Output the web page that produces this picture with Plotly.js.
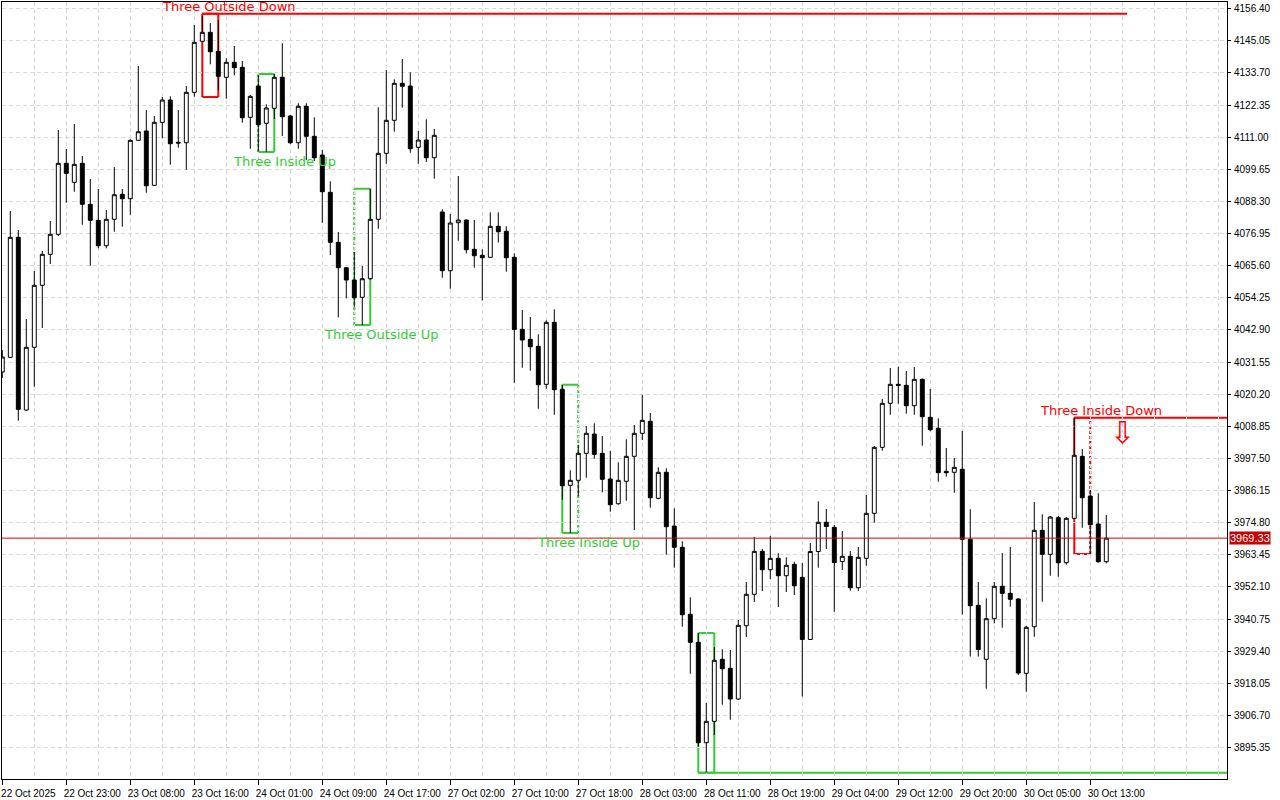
<!DOCTYPE html>
<html><head><meta charset="utf-8">
<script src="https://cdn.plot.ly/plotly-3.0.1.min.js"></script>
<style>html,body{margin:0;padding:0;background:#fff;}#chart{width:1280px;height:800px;}</style>
</head><body><div id="chart"></div>
<script>
// ---- data (hourly OHLC bars, oldest first) ----
const opens = [
4028.03,4033.22,4075.63,4014.60,4036.76,4058.67,4069.62,4076.69,4101.78,4095.06,
4101.78,4087.29,4081.63,4072.66,4081.99,4090.82,4089.27,4109.90,4113.19,4094.00,
4116.26,4124.14,4109.20,4109.06,4126.86,4144.89,4148.07,4141.35,4132.17,4137.47,
4135.70,4118.03,4129.09,4115.91,4121.21,4132.17,4118.49,4109.06,4121.92,4111.32,
4104.71,4091.53,4073.86,4064.89,4060.54,4054.43,4061.00,4081.99,4105.31,4116.97,
4130.05,4129.09,4107.43,4110.01,4103.75,4084.57,4063.83,4080.79,4081.74,4071.39,
4069.27,4068.56,4079.51,4077.75,4068.56,4043.12,4039.58,4037.11,4023.68,4045.59,
4021.92,3987.99,3989.76,3999.30,4006.12,3999.30,3990.22,3981.49,3989.41,3998.24,
4006.37,4010.61,3983.40,3992.59,3973.61,3966.09,3942.41,3932.52,3897.04,3904.60,
3926.51,3923.33,3912.48,3938.38,3949.48,3964.67,3958.17,3962.20,3956.05,3960.08,
3955.48,3933.51,3964.60,3974.92,3973.15,3961.07,3962.91,3951.81,3962.20,3978.10,
4001.42,4016.97,4023.68,4023.33,4016.12,4025.45,4012.02,4008.14,3992.94,3992.59,
3993.65,3968.91,3945.59,3926.51,3940.86,3952.31,3949.83,3947.82,3921.56,3938.03,
3972.09,3963.61,3976.55,3960.64,3976.33,3998.24,3984.21,3974.32,3961.00];
const highs = [
4035.80,4084.92,4078.21,4046.76,4063.72,4070.79,4081.39,4113.54,4106.83,4115.66,
4104.36,4096.23,4092.69,4085.27,4100.47,4092.69,4110.26,4136.16,4120.61,4118.49,
4125.20,4125.45,4120.61,4129.09,4150.65,4153.93,4151.35,4152.41,4138.88,4143.23,
4137.93,4125.91,4132.98,4122.62,4133.33,4144.18,4118.84,4122.98,4122.98,4118.03,
4106.48,4095.42,4077.50,4065.13,4070.43,4065.49,4092.80,4121.56,4134.74,4131.46,
4138.63,4133.93,4113.19,4117.32,4113.90,4085.52,4083.86,4097.29,4081.92,4081.74,
4071.39,4084.46,4084.46,4079.55,4069.97,4049.94,4047.46,4041.35,4046.30,4050.19,
4023.54,3993.29,4002.23,4008.95,4009.90,4005.42,4000.11,3996.12,4004.25,4009.30,
4019.90,4013.54,3994.35,3994.00,3979.87,3968.21,3948.42,3935.80,3911.07,3930.86,
3930.04,3929.80,3940.40,3953.82,3969.73,3965.49,3970.08,3963.97,3962.55,3961.00,
3960.54,3967.61,3982.34,3979.62,3973.97,3971.85,3964.78,3966.19,3984.57,4001.88,
4018.49,4029.44,4029.90,4028.38,4029.80,4025.73,4022.02,4011.67,4001.17,3997.64,
4007.18,3979.55,3953.82,3948.06,3953.82,3964.07,3966.19,3948.06,3938.28,3982.09,
3977.75,3977.15,3977.15,3976.79,4011.88,4000.82,3986.33,3985.17,3977.50];
const lows = [
4025.91,4032.98,4010.82,4014.43,4022.84,4043.58,4066.19,4076.09,4087.85,4091.74,
4080.08,4065.59,4071.74,4071.74,4077.61,4079.37,4083.61,4109.83,4091.39,4093.93,
4110.61,4101.28,4107.29,4099.52,4125.31,4144.82,4136.76,4127.68,4124.60,4132.87,
4116.12,4106.94,4105.88,4105.77,4117.43,4111.42,4108.60,4106.94,4102.94,4102.59,
4080.79,4069.37,4047.36,4054.07,4051.11,4044.64,4060.54,4078.67,4101.63,4112.94,
4121.42,4105.52,4101.63,4102.24,4096.33,4061.35,4057.46,4074.43,4069.90,4064.89,
4053.30,4068.49,4073.79,4063.47,4024.25,4029.55,4028.49,4015.06,4022.13,4012.94,
3982.91,3971.14,3984.11,3990.68,3997.39,3985.52,3978.67,3981.14,3982.55,3972.20,
4004.00,3980.08,3983.05,3963.47,3958.88,3938.03,3921.42,3895.63,3886.44,3899.76,
3910.47,3905.17,3912.13,3934.39,3946.76,3950.64,3954.88,3944.99,3950.29,3949.23,
3913.37,3933.44,3958.88,3965.49,3943.33,3958.06,3950.75,3950.75,3959.58,3974.78,
4000.22,4012.94,4016.83,4013.30,4012.94,4001.99,4007.08,3989.27,3991.03,3985.38,
3942.34,3927.50,3927.50,3916.12,3939.23,3937.68,3945.10,3920.96,3915.06,3934.50,
3946.86,3956.05,3955.70,3959.94,3976.26,3973.01,3963.72,3960.64,3960.43];
const closes = [
4033.33,4075.63,4014.85,4036.76,4058.67,4069.62,4076.69,4101.78,4098.24,4101.42,
4087.29,4081.63,4072.66,4081.99,4090.68,4089.27,4109.90,4112.94,4093.86,4116.26,
4124.14,4108.70,4108.95,4126.86,4144.53,4148.07,4141.21,4132.52,4137.47,4135.56,
4117.89,4125.45,4115.42,4121.32,4132.17,4118.24,4109.06,4121.92,4111.32,4103.75,
4091.74,4073.86,4064.89,4060.54,4054.28,4061.00,4081.99,4105.31,4116.97,4130.05,
4128.99,4106.94,4110.01,4103.75,4111.67,4063.83,4080.68,4081.74,4071.25,4069.13,
4068.42,4079.51,4077.61,4068.42,4043.05,4039.34,4036.97,4023.54,4045.59,4021.78,
3987.85,3989.76,3999.30,4006.37,3998.95,3990.12,3981.14,3989.76,3998.24,4006.37,
4010.96,3983.61,3992.59,3973.37,3966.09,3942.27,3932.52,3897.04,3904.60,3926.16,
3923.19,3912.48,3938.52,3949.48,3964.67,3958.17,3962.20,3956.05,3959.73,3952.52,
3933.51,3964.60,3974.92,3973.44,3960.71,3962.91,3951.81,3962.55,3978.10,4001.42,
4016.97,4023.68,4023.33,4016.12,4025.45,4012.24,4007.64,3992.45,3992.45,3994.35,
3968.91,3945.45,3929.97,3940.86,3952.31,3949.83,3947.71,3921.67,3937.82,3972.09,
3963.61,3976.79,3960.64,3976.33,3998.60,3983.61,3974.07,3961.00,3969.33];

// time axis labels, one every 8 bars starting at bar 0
const timeLabels = ['22 Oct 2025','22 Oct 23:00','23 Oct 08:00','23 Oct 16:00','24 Oct 01:00',
  '24 Oct 09:00','24 Oct 17:00','27 Oct 02:00','27 Oct 10:00','27 Oct 18:00','28 Oct 03:00',
  '28 Oct 11:00','28 Oct 19:00','29 Oct 04:00','29 Oct 12:00','29 Oct 20:00','30 Oct 05:00','30 Oct 13:00'];
const barsPerLabel = 8;
const priceTick0 = 3895.35;
const priceStep = 11.35;
const currentPrice = 3969.33;

// candlestick patterns: bar span, price box, direction
const patternNames   = ['Three Outside Down','Three Inside Up','Three Outside Up','Three Inside Up','Three Inside Up','Three Inside Down'];
const patternFrom    = [25, 32, 44, 70, 87, 134];
const patternTo      = [27, 34, 46, 72, 89, 136];
const patternTop     = [4154.64, 4133.33, 4092.80, 4023.54, 3935.80, 4011.88];
const patternBottom  = [4125.20, 4105.77, 4044.64, 3971.14, 3886.44, 3963.72];
const patternBearish = [true, false, false, false, false, true];
const patternLevelEnd = [140.6, null, null, null, 'edge', 'edge']; // level line extension (bar index)
const signalBar = 140, signalPrice = 4006.8; // sell arrow after Three Inside Down

// ---- styling ----
const RED = '#ff0000', GREEN = '#32cd32';
const dashSide = ['', 'left', 'left', 'right', '', 'right'];
const labelVisible = [true, true, true, true, false, true];

const idx = opens.map((_, i) => i);
const xRange = [-0.0375, 153.09];
const yRange = [3884.22, 4158.78];

const trace = {
  type: 'candlestick', x: idx, open: opens, high: highs, low: lows, close: closes,
  increasing: {line: {color: '#000', width: 1}, fillcolor: '#ffffff'},
  decreasing: {line: {color: '#000', width: 1}, fillcolor: '#000000'},
  whiskerwidth: 0, hoverinfo: 'skip', showlegend: false
};

const shapes = [];
const annotations = [];
patternNames.forEach((name, p) => {
  const col = patternBearish[p] ? RED : GREEN;
  const a = patternFrom[p], b = patternTo[p], t = patternTop[p], btm = patternBottom[p];
  const edge = (x0, y0, x1, y1, side) => shapes.push({type: 'line', layer: 'below', xref: 'x', yref: 'y', x0, y0, x1, y1,
    line: {color: col, width: 2, dash: dashSide[p] === side ? '3px,2px' : 'solid'}});
  edge(a, t, b, t, 'top');
  edge(a, btm, b, btm, 'bottom');
  edge(a, btm, a, t, 'left');
  edge(b, btm, b, t, 'right');
  const ext = patternLevelEnd[p];
  if (ext !== null) {
    const lvl = patternBearish[p] ? t : btm;
    shapes.push({type: 'line', layer: 'below', xref: 'x', yref: 'y', x0: a, x1: ext === 'edge' ? xRange[1] : ext, y0: lvl, y1: lvl,
      line: {color: col, width: 2}});
  }
  if (labelVisible[p]) {
    annotations.push({xref: 'x', yref: 'y', x: b + 1.3, y: patternBearish[p] ? t : btm,
      yanchor: patternBearish[p] ? 'bottom' : 'top', yshift: patternBearish[p] ? -2 : 0,
      xanchor: 'center', showarrow: false,
      text: name, font: {family: 'DejaVu Sans', size: 13, color: col}, borderpad: 1});
  }
});

// sell signal arrow
annotations.push({xref: 'x', yref: 'y', x: signalBar, y: signalPrice, showarrow: false, text: '⇩',
  font: {family: 'DejaVu Sans', size: 30, color: RED}, xanchor: 'center', yanchor: 'middle'});

// current price line + tag
shapes.push({type: 'line', xref: 'paper', yref: 'y', x0: 0, x1: 1, y0: currentPrice, y1: currentPrice,
  line: {color: '#e00000', width: 1}});
annotations.push({xref: 'paper', yref: 'y', x: 1, y: currentPrice, xanchor: 'left', yanchor: 'middle', xshift: 2,
  showarrow: false, text: currentPrice.toFixed(2), bgcolor: '#c80000', borderpad: 0,
  font: {family: 'Liberation Sans', size: 11, color: '#ffffff'}});

const tickvals = timeLabels.map((_, i) => i * barsPerLabel);
const gridStyle = {gridcolor: '#d9d9d9', griddash: '4px,3px', gridwidth: 1};

const layout = {
  width: 1280, height: 800,
  margin: {l: 2, r: 53, t: 2, b: 21, pad: 0},
  paper_bgcolor: '#ffffff', plot_bgcolor: '#ffffff', showlegend: false,
  xaxis: Object.assign({
    type: 'linear', range: xRange, autorange: false, rangeslider: {visible: false},
    tickmode: 'array', tickvals: tickvals, ticktext: timeLabels,
    showgrid: true, zeroline: false,
    ticks: 'outside', ticklen: 5, tickcolor: '#000', tickwidth: 1,
    showline: true, mirror: true, linecolor: '#000', linewidth: 1,
    tickfont: {family: 'Liberation Sans', size: 10, color: '#000'},
    ticklabelshift: 26, ticklabelstandoff: 0,
    minor: Object.assign({tickmode: 'linear', tick0: 0, dtick: barsPerLabel / 2, showgrid: true, ticks: ''}, gridStyle),
    fixedrange: true
  }, gridStyle),
  yaxis: Object.assign({
    side: 'right', range: yRange, autorange: false,
    tickmode: 'linear', tick0: priceTick0, dtick: priceStep, tickformat: '.2f',
    showgrid: true, zeroline: false,
    ticks: 'outside', ticklen: 3, tickcolor: '#000', tickwidth: 1,
    showline: true, mirror: true, linecolor: '#000', linewidth: 1,
    tickfont: {family: 'Liberation Sans', size: 10, color: '#000'},
    ticklabelstandoff: 1,
    fixedrange: true
  }, gridStyle),
  shapes: shapes,
  annotations: annotations
};

Plotly.newPlot('chart', [trace], layout, {staticPlot: true, displayModeBar: false});
</script>
</body></html>
